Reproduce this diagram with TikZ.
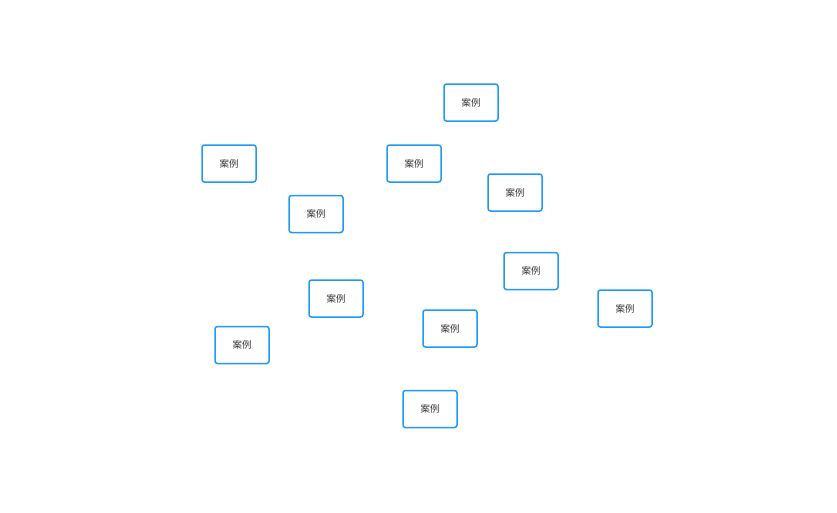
\documentclass[tikz,border=0pt]{standalone}
\usepackage{fontspec}
\newfontfamily\cjk{Noto Sans CJK SC}
\definecolor{boxblue}{HTML}{1E9BF0}
\definecolor{txt}{HTML}{333333}
\tikzset{casebox/.style={draw=boxblue, line width=1.5pt, rounded corners=2.5pt, minimum width=54pt, minimum height=37pt, inner sep=0pt, fill=white, text=txt, font=\cjk\fontsize{9.5}{11}\selectfont}}
\begin{document}
\begin{tikzpicture}[x=1pt,y=-1pt]
\useasboundingbox (0,0) rectangle (837,512);
\node[casebox] (n1) at (471,102.5) {案例};
\node[casebox] (n2) at (229,163.5) {案例};
\node[casebox] (n3) at (414,163.5) {案例};
\node[casebox] (n4) at (515,192.5) {案例};
\node[casebox] (n5) at (316,214) {案例};
\node[casebox] (n6) at (531,271) {案例};
\node[casebox] (n7) at (625,308.5) {案例};
\node[casebox] (n8) at (336,298.5) {案例};
\node[casebox] (n9) at (450,328.5) {案例};
\node[casebox] (n10) at (242,345) {案例};
\node[casebox] (n11) at (430,409) {案例};
\end{tikzpicture}
\end{document}
